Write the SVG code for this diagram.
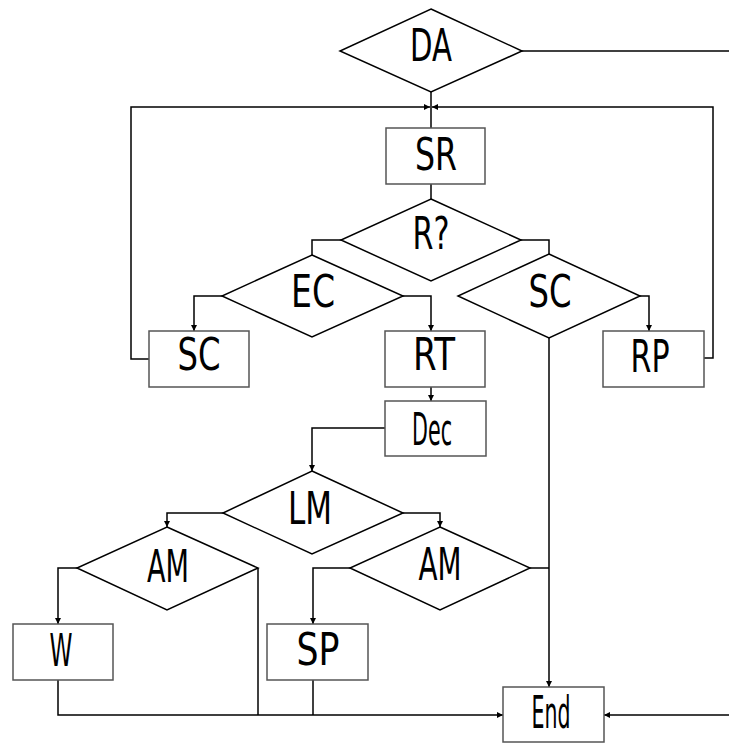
<svg xmlns="http://www.w3.org/2000/svg" width="729" height="743" viewBox="0 0 729 743">
  <style>
    .box { fill: #fff; stroke: #555; stroke-width: 1.5; }
    .dia { fill: #fff; stroke: #000; stroke-width: 1.5; }
    .wire { fill: none; stroke: #000; stroke-width: 1.5; }
    .arr { marker-end: url(#tip); }
    text { font-family: "DejaVu Sans", sans-serif; font-size: 44px; fill: #000; text-anchor: middle; }
  </style>
  <defs>
    <marker id="tip" markerUnits="userSpaceOnUse" markerWidth="8" markerHeight="8" refX="6" refY="4" orient="auto">
      <path d="M0,1 L6,4 L0,7 z" fill="#000"/>
    </marker>
  </defs>
  <rect width="729" height="743" fill="#fff"/>

  <g id="connectors">
    <path class="wire" d="M522,51 H729"/>
    <path class="wire" d="M431,92 V128"/>
    <path class="wire arr" d="M149,359 H131 V107 H430"/>
    <path class="wire arr" d="M704,358 H713 V107 H432"/>
    <path class="wire" d="M431,184 V199"/>
    <path class="wire" d="M341,240 H312 V255"/>
    <path class="wire" d="M521,240 H549 V254"/>
    <path class="wire arr" d="M222,296 H194 V331"/>
    <path class="wire arr" d="M403,296 H431 V331"/>
    <path class="wire arr" d="M640,296 H649 V331"/>
    <path class="wire arr" d="M549,338 V687"/>
    <path class="wire arr" d="M431,387 V401"/>
    <path class="wire arr" d="M385,428 H312 V471"/>
    <path class="wire arr" d="M223,513 H167 V527"/>
    <path class="wire arr" d="M403,513 H440 V527"/>
    <path class="wire arr" d="M77,568 H58 V624"/>
    <path class="wire arr" d="M350,568 H313 V624"/>
    <path class="wire" d="M530,568 H549"/>
    <path class="wire arr" d="M58,680 V715 H503"/>
    <path class="wire" d="M258,568 V715"/>
    <path class="wire" d="M313,680 V715"/>
    <path class="wire arr" d="M729,715 H604"/>
  </g>

  <g id="da">
    <polygon class="dia" points="431,9 522,51 431,92 340,51"/>
    <text x="431" y="61" textLength="42" lengthAdjust="spacingAndGlyphs">DA</text>
  </g>
  <g id="sr">
    <rect class="box" x="386" y="128" width="99" height="56"/>
    <text x="436" y="170" textLength="42" lengthAdjust="spacingAndGlyphs">SR</text>
  </g>
  <g id="rq">
    <polygon class="dia" points="431,199 521,240 431,281 341,240"/>
    <text x="431" y="249" textLength="37" lengthAdjust="spacingAndGlyphs">R?</text>
  </g>
  <g id="ec">
    <polygon class="dia" points="312,255 403,296 312,337 222,296"/>
    <text x="313" y="307" textLength="44" lengthAdjust="spacingAndGlyphs">EC</text>
  </g>
  <g id="sc-box">
    <rect class="box" x="149" y="331" width="100" height="56"/>
    <text x="199" y="370" textLength="43" lengthAdjust="spacingAndGlyphs">SC</text>
  </g>
  <g id="rt">
    <rect class="box" x="385" y="331" width="100" height="56"/>
    <text x="434" y="370" textLength="42" lengthAdjust="spacingAndGlyphs">RT</text>
  </g>
  <g id="sc-dia">
    <polygon class="dia" points="549,254 640,296 549,338 458,296"/>
    <text x="550" y="307" textLength="43" lengthAdjust="spacingAndGlyphs">SC</text>
  </g>
  <g id="rp">
    <rect class="box" x="603" y="331" width="101" height="56"/>
    <text x="650" y="372" textLength="39" lengthAdjust="spacingAndGlyphs">RP</text>
  </g>
  <g id="dec">
    <rect class="box" x="385" y="401" width="101" height="55"/>
    <text x="432" y="445" textLength="40" lengthAdjust="spacingAndGlyphs">Dec</text>
  </g>
  <g id="lm">
    <polygon class="dia" points="312,471 403,513 312,554 223,513"/>
    <text x="310" y="524" textLength="44" lengthAdjust="spacingAndGlyphs">LM</text>
  </g>
  <g id="am-left">
    <polygon class="dia" points="167,527 258,568 167,610 77,568"/>
    <text x="168" y="582" textLength="42" lengthAdjust="spacingAndGlyphs">AM</text>
  </g>
  <g id="w">
    <rect class="box" x="13" y="624" width="100" height="56"/>
    <text x="61" y="666" textLength="23" lengthAdjust="spacingAndGlyphs">W</text>
  </g>
  <g id="am-right">
    <polygon class="dia" points="440,527 530,568 440,610 350,568"/>
    <text x="440" y="580" textLength="43" lengthAdjust="spacingAndGlyphs">AM</text>
  </g>
  <g id="sp">
    <rect class="box" x="267" y="624" width="101" height="56"/>
    <text x="318" y="665" textLength="43" lengthAdjust="spacingAndGlyphs">SP</text>
  </g>
  <g id="end">
    <rect class="box" x="503" y="687" width="101" height="55"/>
    <text x="551" y="728" textLength="39" lengthAdjust="spacingAndGlyphs">End</text>
  </g>
</svg>
